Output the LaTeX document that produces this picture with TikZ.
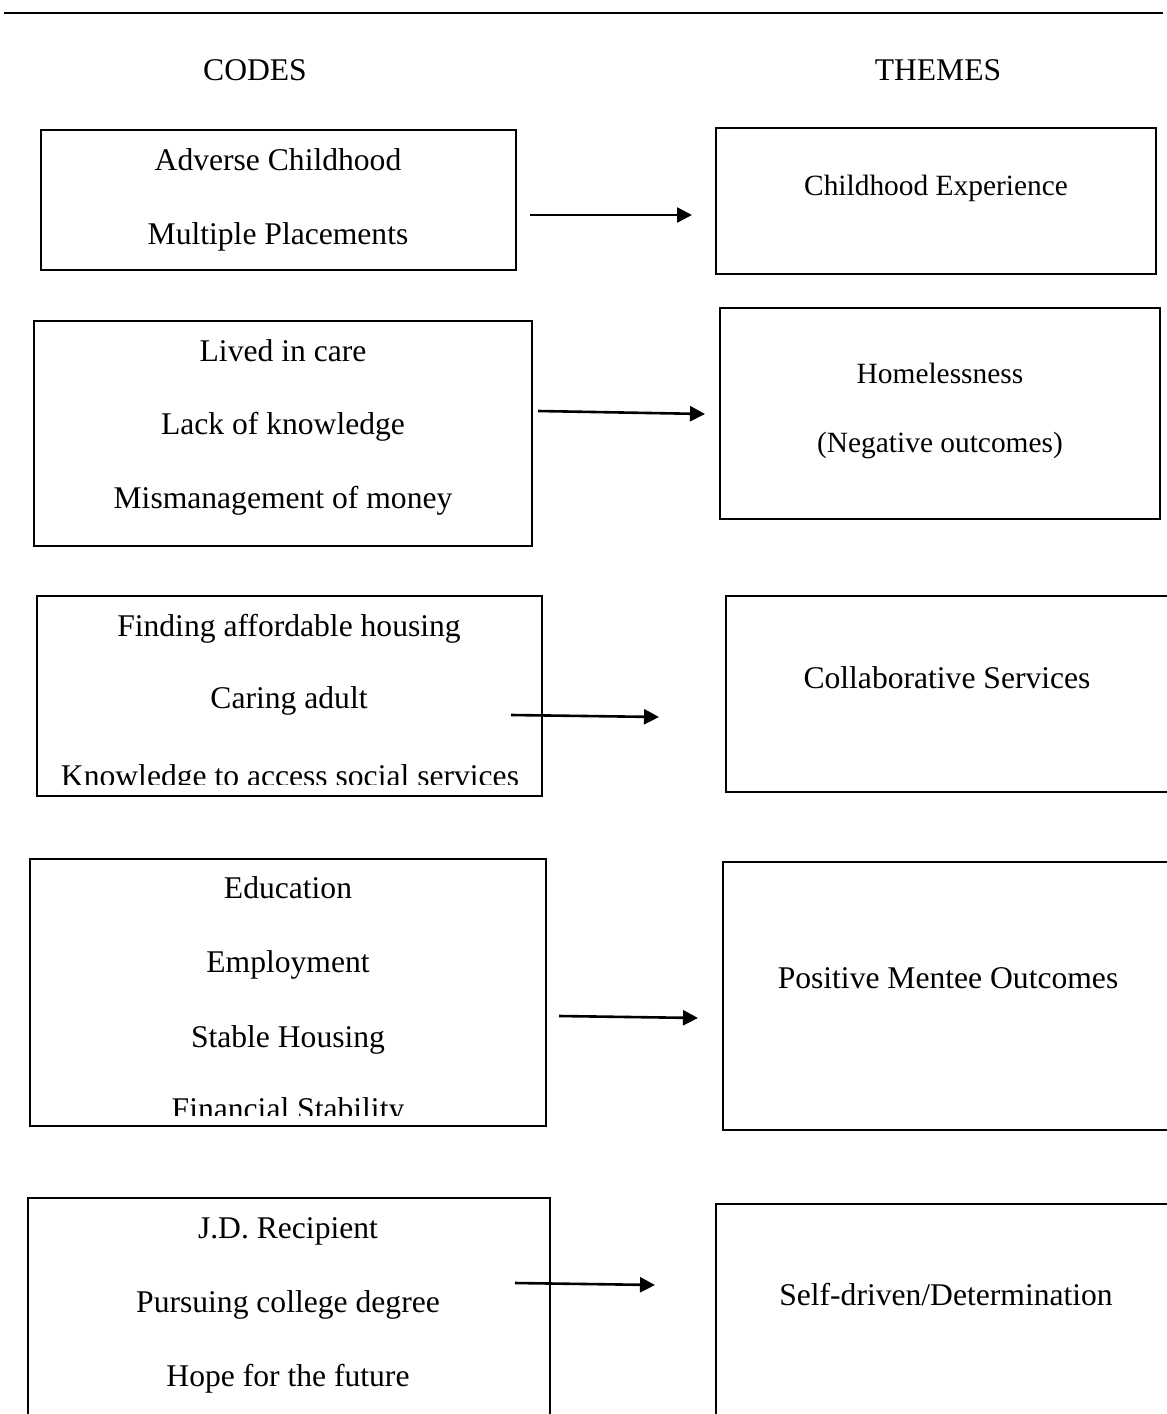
\documentclass[tikz,border=0pt]{standalone}
\usepackage{fontspec}
\setmainfont{Liberation Serif}
\usetikzlibrary{arrows.meta,fit}
\begin{document}
\begin{tikzpicture}[x=0.5pt,y=-0.5pt,
  box/.style={draw, line width=1.2pt, inner sep=0pt},
  lbl/.style={font=\fontsize{15.8}{19}\selectfont, inner sep=0pt, anchor=base},
  slbl/.style={font=\fontsize{14.7}{18}\selectfont, inner sep=0pt, anchor=base},
  conn/.style={line width=1.3pt, -{Triangle[length=7.5pt,width=7.5pt]}}]
\useasboundingbox (0,0) rectangle (1167,1414);
\clip (0,0) rectangle (1167,1414);
% top rule
\coordinate (ruleL) at (4,13);
\coordinate (ruleR) at (1163,13);
\draw[line width=0.8pt] (ruleL) -- (ruleR);
% headings
\node[lbl] (codes) at (255,80) {CODES};
\node[lbl] (themes) at (938,80) {THEMES};
% boxes
\node[box, fit={(41,130) (516,270)}] (c1) {};
\node[box, fit={(716,128) (1156,274)}] (t1) {};
\node[box, fit={(34,321) (532,546)}] (c2) {};
\node[box, fit={(720,308) (1160,519)}] (t2) {};
\node[box, fit={(37,596) (542,796)}] (c3) {};
\node[box, fit={(726,596) (1200,792)}] (t3) {};
\node[box, fit={(30,859) (546,1126)}] (c4) {};
\node[box, fit={(723,862) (1200,1130)}] (t4) {};
\node[box, fit={(28,1198) (550,1440)}] (c5) {};
\node[box, fit={(716,1204) (1200,1440)}] (t5) {};
% texts
\node[lbl] (c1a) at (278,170) {Adverse Childhood};
\node[lbl] (c1b) at (278,244) {Multiple Placements};
\node[slbl] (t1a) at (936,195) {Childhood Experience};
\node[lbl] (c2a) at (283,361) {Lived in care};
\node[lbl] (c2b) at (283,434) {Lack of knowledge};
\node[lbl] (c2c) at (283,508) {Mismanagement of money};
\node[slbl] (t2a) at (940,383) {Homelessness};
\node[slbl] (t2b) at (940,452) {(Negative outcomes)};
\node[lbl] (c3a) at (289,636) {Finding affordable housing};
\node[lbl] (c3b) at (289,708) {Caring adult};
\begin{scope}
\clip (37,596) rectangle (542,784);
\node[lbl] (c3c) at (290,786) {Knowledge to access social services};
\end{scope}
\node[lbl] (t3a) at (947,688) {Collaborative Services};
\node[lbl] (c4a) at (288,898) {Education};
\node[lbl] (c4b) at (288,972) {Employment};
\node[lbl] (c4c) at (288,1047) {Stable Housing};
\begin{scope}
\clip (30,859) rectangle (546,1115);
\node[lbl] (c4d) at (288,1119) {Financial Stability};
\end{scope}
\node[lbl] (t4a) at (948,988) {Positive Mentee Outcomes};
\node[lbl] (c5a) at (288,1238) {J.D. Recipient};
\node[lbl] (c5b) at (288,1312) {Pursuing college degree};
\node[lbl] (c5c) at (288,1386) {Hope for the future};
\node[lbl] (t5a) at (946,1305) {Self-driven/Determination};
% arrows
\coordinate (a1s) at (530,215); \coordinate (a1e) at (692,215);
\coordinate (a2s) at (538,411); \coordinate (a2e) at (705,414);
\coordinate (a3s) at (511,715); \coordinate (a3e) at (659,717);
\coordinate (a4s) at (559,1016); \coordinate (a4e) at (698,1018);
\coordinate (a5s) at (515,1283); \coordinate (a5e) at (655,1285);
\draw[conn] (a1s) -- (a1e);
\draw[conn] (a2s) -- (a2e);
\draw[conn] (a3s) -- (a3e);
\draw[conn] (a4s) -- (a4e);
\draw[conn] (a5s) -- (a5e);
\end{tikzpicture}
\end{document}
